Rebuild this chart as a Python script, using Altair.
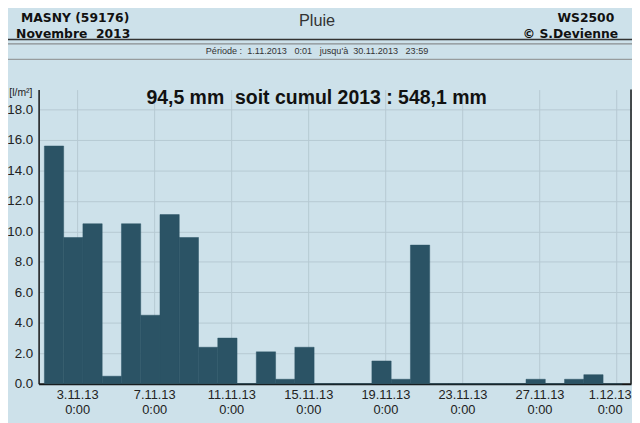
import json
import altair as alt
import pandas as pd

# ---------------- data ----------------
days = list(range(1, 31))
rain = [15.6, 9.6, 10.5, 0.5, 10.5, 4.5, 11.1, 9.6, 2.4, 3.0,
        0.0, 2.1, 0.3, 2.4, 0.0, 0.0, 0.0, 1.5, 0.3, 9.1,
        0.0, 0.0, 0.0, 0.0, 0.0, 0.3, 0.0, 0.3, 0.6, 0.0]
x_tick_values = [2, 6, 10, 14, 18, 22, 26, 30]
x_tick_labels = ["3.11.13", "7.11.13", "11.11.13", "15.11.13",
                 "19.11.13", "23.11.13", "27.11.13", "1.12.13"]
x_tick_time = "0:00"
y_tick_values = [0, 2, 4, 6, 8, 10, 12, 14, 16, 18]

NB = "\u00a0"
station = "MASNY (59176)"
month = "Novembre" + NB + NB + "2013"
measure = "Pluie"
device = "WS2500"
author = "© S.Devienne"
period = ("Période :" + NB * 2 + "1.11.2013" + NB * 3 + "0:01" + NB * 3 +
          "jusqu'à" + NB * 2 + "30.11.2013" + NB * 3 + "23:59")
headline = "94,5 mm" + NB + NB + "soit cumul 2013 : 548,1 mm"
unit = "[l/m²]"

# ---------------- style ----------------
BG = "#cde1ea"
BAR = "#2b5365"
GRID = "#b6c9d2"
DARK = "#141414"
OFFSET = 0.3  # bars are shifted from midnight

df = pd.DataFrame({"day": days, "rain": rain})
one = pd.DataFrame({"k": [0]})

label_expr = "[" + json.dumps(x_tick_labels) + \
    "[round((datum.value - 2) / 4)], '" + x_tick_time + "']"

bars = alt.Chart(df).transform_calculate(
    x0=f"datum.day - 1 + {OFFSET}",
    x1=f"datum.day + {OFFSET}",
).mark_rect(color=BAR, stroke=BAR, strokeWidth=0.5).encode(
    x=alt.X("x0:Q",
            scale=alt.Scale(domain=[0, 30.75], nice=False, zero=False),
            axis=alt.Axis(values=x_tick_values, labelExpr=label_expr,
                          title=None, ticks=False, grid=True, gridColor=GRID,
                          gridWidth=1, domainColor=DARK, domainWidth=2,
                          labelFont="Liberation Sans", labelFontSize=13,
                          labelColor="#222", labelLineHeight=15,
                          labelPadding=5, labelBaseline="top",
                          labelOffset=alt.ExprRef(expr="datum.value == 30 ? -7 : 0"),
                          labelFlush=False, labelOverlap=False)),
    x2="x1:Q",
    y=alt.Y("rain:Q",
            scale=alt.Scale(domain=[0, 19.3], nice=False),
            axis=alt.Axis(values=y_tick_values, format=".1f", title=None,
                          ticks=False, grid=True, gridColor=GRID, gridWidth=1,
                          domainColor=DARK, domainWidth=1.5,
                          labelFont="Liberation Sans", labelFontSize=13.5,
                          labelColor="#222", labelPadding=6)),
    y2=alt.datum(0),
)


def text(t, x, y, size, font="Liberation Sans", weight="normal",
         align="center", color="#111", baseline="alphabetic"):
    return alt.Chart(pd.DataFrame({"t": [t]})).mark_text(
        font=font, fontSize=size, fontWeight=weight, align=align,
        baseline=baseline, color=color,
    ).encode(text="t:N", x=alt.value(x), y=alt.value(y))


def hrule(y, color, width):
    return alt.Chart(one).mark_rule(color=color, strokeWidth=width).encode(
        x=alt.value(-40), x2=alt.value(610), y=alt.value(y))


right_border = alt.Chart(one).mark_rule(color=DARK, strokeWidth=1.5).encode(
    x=alt.value(600), y=alt.value(0), y2=alt.value(298))

chart = alt.layer(
    bars,
    right_border,
    hrule(-50.7, "#333", 1.5),
    hrule(-46.3, "#777", 1),
    hrule(-30.7, "#888", 1),
    text(station, 37, -68.5, 12.5, font="DejaVu Sans", weight="bold"),
    text(month, 35, -52.5, 12.5, font="DejaVu Sans", weight="bold"),
    text(measure, 282, -64, 16.5, color="#333"),
    text(device, 583, -68.5, 12.5, font="DejaVu Sans", weight="bold", align="right"),
    text(author, 587, -52.5, 12.5, font="DejaVu Sans", weight="bold", align="right"),
    text(period, 282, -35.8, 9.2, color="#333"),
    text(headline, 281.5, 14.3, 19.7, weight="bold"),
    text(unit, -18, 6, 10.5, color="#222"),
).properties(
    width=600, height=298,
    autosize=alt.AutoSizeParams(type="none"),
    padding={"left": 31, "top": 80, "right": 1, "bottom": 37},
    background=BG,
).configure_view(stroke=None)

chart.save("out.html", embed_options={"renderer": "svg", "actions": False})
